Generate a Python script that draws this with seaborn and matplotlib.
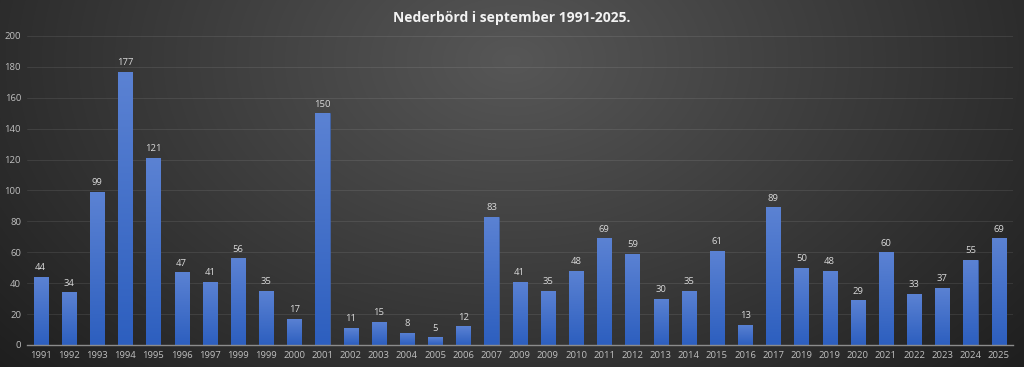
import numpy as np
import pandas as pd
import matplotlib
matplotlib.use("Agg")
import matplotlib.pyplot as plt
import seaborn as sns

# September precipitation (mm), labels as shown in the source chart
years = ["1991", "1992", "1993", "1994", "1995", "1996", "1997", "1999", "1999",
         "2000", "2001", "2002", "2003", "2004", "2005", "2006", "2007", "2009",
         "2009", "2010", "2011", "2012", "2013", "2014", "2015", "2016", "2017",
         "2019", "2019", "2020", "2021", "2022", "2023", "2024", "2025"]
rain = [44, 34, 99, 177, 121, 47, 41, 56, 35, 17, 150, 11, 15, 8, 5, 12, 83,
        41, 35, 48, 69, 59, 30, 35, 61, 13, 89, 50, 48, 29, 60, 33, 37, 55, 69]
y_ticks = [0, 20, 40, 60, 80, 100, 120, 140, 160, 180, 200]

df = pd.DataFrame({"pos": np.arange(len(years)), "year": years, "mm": rain})

sns.set_theme(style="dark")
plt.rcParams["font.family"] = ["Open Sans", "DejaVu Sans"]

fig = plt.figure(figsize=(10.24, 3.67), dpi=100)

# radial gradient background
bg = fig.add_axes([0, 0, 1, 1], zorder=-10)
yy, xx = np.mgrid[0:367, 0:1024]
r = np.sqrt(((xx - 512) / 620.0) ** 2 + ((yy - 60) / 420.0) ** 2)
shade = np.clip(0.34 - 0.20 * r, 0.12, 0.34)
bg.imshow(np.dstack([shade, shade, shade]), aspect="auto", extent=[0, 1, 0, 1])
bg.axis("off")

ax = fig.add_axes([0.026, 0.060, 0.963, 0.842])
ax.patch.set_alpha(0)

sns.barplot(data=df, x="pos", y="mm", color="#4472c4", width=0.5,
            native_scale=False, ax=ax, zorder=3)

# vertical gradient on each bar
grad = np.linspace(0, 1, 100).reshape(-1, 1)
cmap = matplotlib.colors.LinearSegmentedColormap.from_list(
    "bar", ["#2d5fbf", "#5b82d3"])
for p in ax.patches:
    x0, w, h = p.get_x(), p.get_width(), p.get_height()
    im = ax.imshow(grad, cmap=cmap, aspect="auto", origin="lower",
                   extent=[x0, x0 + w, 0, h], zorder=4)
    im.set_clip_path(p)
    p.set_edgecolor("#3a66c0")
    p.set_linewidth(0.4)

for p, v in zip(ax.patches, rain):
    ax.text(p.get_x() + p.get_width() / 2, v + 3, str(v), ha="center",
            va="bottom", fontsize=6.8, color="#d9d9d9", zorder=5)

ax.set_xlim(-0.5, len(years) - 0.5)
ax.set_ylim(0, 200)
ax.set_yticks(y_ticks)
ax.set_yticklabels([str(t) for t in y_ticks])
ax.set_xticks(df["pos"])
ax.set_xticklabels(years)
ax.tick_params(axis="both", labelsize=6.8, colors="#bfbfbf", length=0, pad=4)
ax.set_xlabel("")
ax.set_ylabel("")
ax.grid(axis="y", color="white", alpha=0.09, linewidth=0.7, zorder=0)
ax.grid(axis="x", visible=False)
for s in ["top", "right", "left"]:
    ax.spines[s].set_visible(False)
ax.spines["bottom"].set_color("#8c8c8c")
ax.spines["bottom"].set_linewidth(1.0)
ax.spines["bottom"].set_zorder(6)

fig.text(0.5, 0.95, "Nederbörd i september 1991-2025.", ha="center",
         va="center", fontsize=10, fontweight="bold", color="#f2f2f2")

fig.savefig("out.png", dpi=100)
